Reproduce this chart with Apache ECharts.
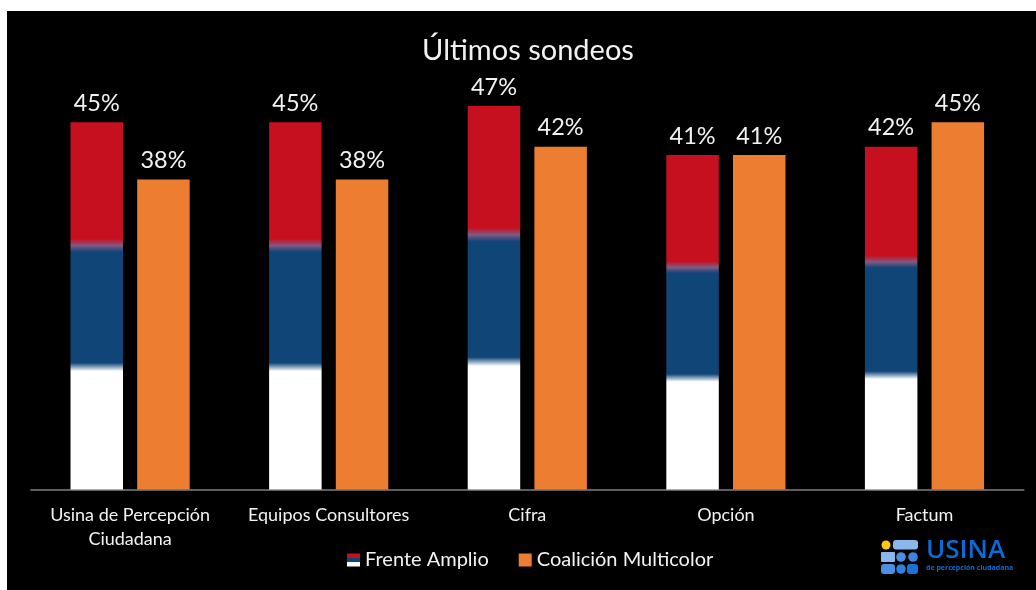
<!DOCTYPE html>
<html>
<head>
<meta charset="utf-8">
<style>
html,body{margin:0;padding:0;width:1036px;height:590px;background:#fff;overflow:hidden}
#chart{position:absolute;left:7px;top:11px;width:1029px;height:579px;background:#000}
</style>
<script src="https://cdn.jsdelivr.net/npm/echarts@6/dist/echarts.min.js"></script>
</head>
<body>
<div id="chart"></div>
<script>
const titleText = 'Últimos sondeos';
const categories = ['Usina de Percepción\nCiudadana', 'Equipos Consultores', 'Cifra', 'Opción', 'Factum'];
const frenteAmplio = [45, 45, 47, 41, 42];
const coalicionMulticolor = [38, 38, 42, 41, 45];
const FONT = 'Lato, "Open Sans", sans-serif';
const flagGradient = {
  type: 'linear', x: 0, y: 0, x2: 0, y2: 1,
  colorStops: [
    {offset: 0, color: '#c7101f'},
    {offset: 0.318, color: '#c7101f'},
    {offset: 0.336, color: '#7f5a85'},
    {offset: 0.353, color: '#104577'},
    {offset: 0.655, color: '#104577'},
    {offset: 0.678, color: '#ffffff'},
    {offset: 1, color: '#ffffff'}
  ]
};
const label = {show: true, position: 'top', distance: 7, color: '#f2f2f2', fontFamily: FONT, fontSize: 23.5, formatter: p => p.value + '%'};
const chart = echarts.init(document.getElementById('chart'), null, {renderer: 'canvas'});
chart.setOption({
  backgroundColor: '#000',
  animation: false,
  title: {text: titleText, left: 521, textAlign: 'center', top: 25, textStyle: {color: '#f2f2f2', fontFamily: FONT, fontWeight: 'normal', fontSize: 29}, padding: 0},
  grid: {left: 23.8, right: 12.2, top: 70.5, bottom: 100.5},
  legend: {
    left: 340, top: 539, itemWidth: 13, itemHeight: 13, itemGap: 30, padding: 0,
    textStyle: {color: '#f2f2f2', fontFamily: FONT, fontSize: 20, padding: [0, 0, 0, 0]},
    data: [{name: 'Frente Amplio', icon: 'rect'}, {name: 'Coalición Multicolor', icon: 'rect'}]
  },
  xAxis: {
    type: 'category', data: categories,
    axisTick: {show: false},
    axisLine: {lineStyle: {color: '#7f7f7f', width: 1.5}},
    axisLabel: {color: '#f2f2f2', fontFamily: FONT, fontSize: 18, lineHeight: 24, margin: 14, interval: 0}
  },
  yAxis: {type: 'value', min: 0, max: 50, show: false},
  series: [
    {name: 'Frente Amplio', type: 'bar', data: frenteAmplio, barWidth: 52.5, barGap: '27%', itemStyle: {color: flagGradient}, label},
    {name: 'Coalición Multicolor', type: 'bar', data: coalicionMulticolor, barWidth: 52.5, itemStyle: {color: '#ed7d31'}, label}
  ],
  graphic: [
    {type: 'group', left: 874, top: 529, children: [
      {type: 'circle', shape: {cx: 5, cy: 5, r: 4.5}, style: {fill: '#ffc90e'}},
      {type: 'rect', shape: {x: 12, y: 0, width: 25, height: 9.5, r: 3}, style: {fill: '#8ab8ea'}},
      {type: 'rect', shape: {x: 0, y: 12, width: 14, height: 10, r: 1}, style: {fill: '#8ab8ea'}},
      {type: 'circle', shape: {cx: 20, cy: 17, r: 4.8}, style: {fill: '#4a90e2'}},
      {type: 'circle', shape: {cx: 32, cy: 17, r: 4.8}, style: {fill: '#3b86de'}},
      {type: 'rect', shape: {x: 0, y: 24, width: 14, height: 10, r: 3}, style: {fill: '#4a90e2'}},
      {type: 'circle', shape: {cx: 20, cy: 29, r: 4.8}, style: {fill: '#2f7fdc'}},
      {type: 'rect', shape: {x: 26, y: 24, width: 11, height: 10, r: 3}, style: {fill: '#1a72d8'}}
    ]},
    {type: 'text', left: 919, top: 527, style: {text: 'USINA', fill: '#0a6bd6', font: '600 26px "Open Sans", sans-serif', letterSpacing: 3}},
    {type: 'text', left: 919, top: 553, style: {text: 'de percepción ciudadana', fill: '#0a6bd6', font: 'bold 7px "Open Sans", sans-serif'}}
  ]
});
</script>
</body>
</html>
